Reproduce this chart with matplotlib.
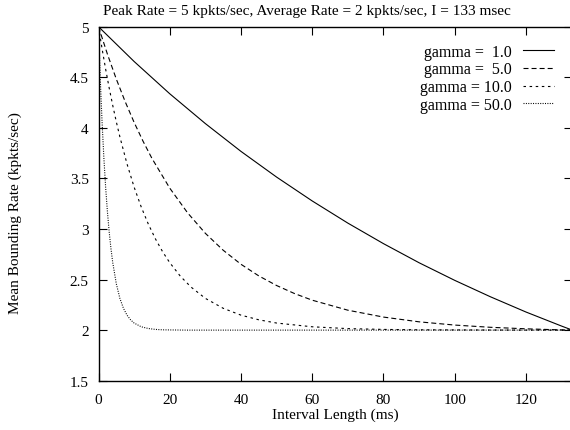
import matplotlib
matplotlib.use("Agg")
import matplotlib.pyplot as plt

# Interval length (ms) and mean bounding rate (kpkts/sec) for each gamma
x_g1 = [0, 10, 20, 30, 40, 50, 60, 70, 80, 90, 100, 110, 120, 130, 133]
y_g1 = [5.0, 4.656, 4.337, 4.042, 3.767, 3.513, 3.277, 3.058, 2.855, 2.666,
        2.492, 2.330, 2.179, 2.040, 2.0]

x_g5 = [0, 2.5, 5, 7.5, 10, 12.5, 15, 20, 25, 30, 35, 40, 45, 50, 55, 60,
        70, 80, 90, 100, 110, 120, 130, 133]
y_g5 = [5.0, 4.729, 4.482, 4.258, 4.054, 3.868, 3.698, 3.404, 3.160, 2.957,
        2.790, 2.651, 2.536, 2.441, 2.362, 2.296, 2.197, 2.129, 2.082, 2.050,
        2.028, 2.013, 2.002, 2.0]

x_g10 = [0, 1, 2, 3, 4, 5, 6, 8, 10, 12, 14, 16, 18, 20, 23, 26, 30, 35, 40,
         45, 50, 60, 70, 80, 90, 100, 115, 133]
y_g10 = [5.0, 4.783, 4.581, 4.394, 4.221, 4.060, 3.911, 3.644, 3.414, 3.217,
         3.047, 2.901, 2.775, 2.667, 2.532, 2.425, 2.314, 2.216, 2.148, 2.102,
         2.070, 2.033, 2.015, 2.007, 2.003, 2.002, 2.0005, 2.0]

x_g50 = [0, 0.25, 0.5, 0.75, 1, 1.5, 2, 2.5, 3, 3.5, 4, 5, 6, 7, 8, 9, 10,
         12, 14, 16, 18, 20, 25, 133]
y_g50 = [5.0, 4.731, 4.486, 4.263, 4.060, 3.707, 3.414, 3.172, 2.971, 2.805,
         2.667, 2.458, 2.314, 2.216, 2.148, 2.102, 2.070, 2.033, 2.016, 2.007,
         2.003, 2.002, 2.0001, 2.0]

labels = ["gamma =  1.0", "gamma =  5.0", "gamma = 10.0", "gamma = 50.0"]
x_ticks = [0, 20, 40, 60, 80, 100, 120]
y_ticks = [1.5, 2, 2.5, 3, 3.5, 4, 4.5, 5]
y_tick_labels = ["1.5", "2", "2.5", "3", "3.5", "4", "4.5", "5"]

plt.rcParams["font.family"] = ["Liberation Serif", "DejaVu Serif"]
plt.rcParams["lines.scale_dashes"] = False

W, H = 570, 431
fs = 11
fig = plt.figure(figsize=(W / 100, H / 100), dpi=100)
left, right, top, bottom = 98.5, 572.3, 27.7, 381.7
ax = fig.add_axes([left / W, 1 - bottom / H, (right - left) / W, (bottom - top) / H])

lw = 0.8
ax.plot(x_g1, y_g1, color="black", lw=lw, label=labels[0])
ax.plot(x_g5, y_g5, color="black", lw=lw, dashes=(3.6, 2.2), label=labels[1])
ax.plot(x_g10, y_g10, color="black", lw=lw, dashes=(1.8, 2.6), label=labels[2])
ax.plot(x_g50, y_g50, color="black", lw=lw, dashes=(0.72, 1.0), label=labels[3])

ax.set_xlim(0, 133)
ax.set_ylim(1.5, 5)
ax.set_xticks(x_ticks)
ax.set_yticks(y_ticks)
ax.set_yticklabels(y_tick_labels)
ax.tick_params(direction="in", length=5.8, width=0.8, top=True, right=True,
               labelsize=fs, colors="black")
ax.tick_params(axis="y", pad=7)
ax.tick_params(axis="x", pad=8.5)
for s in ax.spines.values():
    s.set_linewidth(1.0)

fig.text((left + right) / 2 / W, 1 - 418.5 / H, "Interval Length (ms)",
         ha="center", va="baseline", fontsize=fs)
fig.text(15 / W, 1 - 213 / H, "Mean Bounding Rate (kpkts/sec)", rotation=90,
         ha="center", va="center", fontsize=fs)
fig.text(307 / W, 1 - 11 / H,
         "Peak Rate = 5 kpkts/sec, Average Rate = 2 kpkts/sec, I = 133 msec",
         ha="center", va="center", fontsize=fs)

leg = ax.legend(loc="upper right",
                bbox_to_anchor=((554 - left) / (right - left), 1 - 17 / (bottom - top)),
                frameon=False, markerfirst=False, handlelength=1.95,
                handletextpad=0.72, labelspacing=0.11, fontsize=11.5,
                borderaxespad=0, borderpad=0)

fig.savefig("out.png", dpi=100)
